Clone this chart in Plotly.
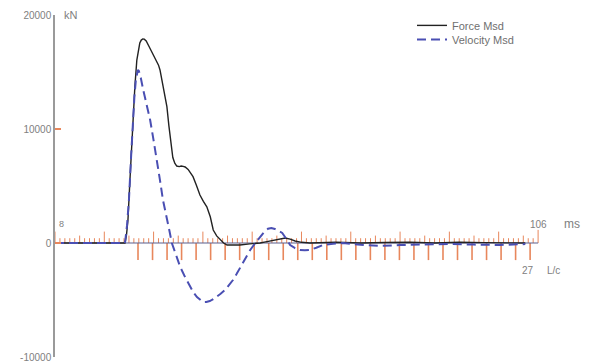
import plotly.graph_objects as go

# ---- data (time in ms, values in kN-equivalent units) ----
force_t = [8, 15, 20, 22.2, 22.5, 22.8, 23.2, 23.8, 24.2, 24.6, 24.9, 25.2, 25.5, 25.8, 26.1,
           26.5, 27.0, 27.6, 28.1, 28.5, 29.0, 29.3, 29.6, 29.9, 30.3, 30.7, 31.1, 31.5, 31.9,
           32.3, 32.7, 33.2, 33.6, 34.0, 34.4, 35.0, 35.5, 36.0, 36.7, 37.4, 38.1, 38.8, 39.5,
           40.1, 40.8, 41.5, 42.2, 42.9, 44.0, 45.5, 47.5, 49.6, 51.0, 52.6, 53.7, 54.7, 55.7,
           56.7, 58.0, 59.7, 65, 70, 75, 80, 85, 90, 95, 100, 103.4]
force_v = [0, 0, 0, 0, 700, 2018, 5500, 10790, 13700, 16050, 17000, 17540, 17800, 17900, 17880,
           17720, 17300, 16780, 16400, 16050, 15600, 15180, 14500, 13600, 12800, 11960, 10300,
           8600, 7500, 7000, 6750, 6700, 6750, 6720, 6670, 6450, 6150, 5820, 5050, 4210, 3650,
           3180, 2300, 1140, 620, 260, 0, -175, -200, -175, -80, 0, 120, 260, 380, 440, 340,
           175, 60, 0, 60, 0, 40, 60, 0, 60, 30, 0, 0]

vel_t = [8, 15, 20, 22.2, 22.6, 23.0, 23.4, 23.8, 24.1, 24.4, 24.6, 24.8, 25.0, 25.4, 25.9,
         26.6, 27.3, 28.0, 28.7, 29.3, 29.9, 30.3, 30.7, 31.2, 31.7, 32.5, 33.4, 34.4, 35.4,
         36.1, 36.8, 37.4, 38.0, 38.7, 39.4, 40.1, 40.8, 41.6, 42.5, 43.3, 44.1, 44.8, 45.5,
         46.5, 47.6, 48.6, 49.6, 50.4, 51.2, 51.9, 52.6, 53.4, 54.1, 54.9, 55.7, 56.7, 57.7,
         58.7, 59.7, 61.0, 62.4, 64.4, 66.4, 70, 73.9, 78.0, 83, 88.1, 93, 98.3, 103.4]
vel_v = [0, 0, 0, 0, 1500, 3770, 7300, 10790, 12800, 14300, 14900, 15180, 15100, 14500, 13420,
         12100, 10790, 9000, 7280, 5500, 3770, 3000, 2280, 1100, 0, -1050, -2100, -3000, -3860,
         -4350, -4740, -5000, -5180, -5170, -5090, -4930, -4740, -4450, -4120, -3700, -3250,
         -2750, -2190, -1400, -610, -20, 530, 950, 1250, 1320, 1230, 1080, 880, 380, -175,
         -450, -610, -640, -610, -420, -175, -60, 0, -150, -260, -175, -120, -90, -140, -175, -90]

y_ticks = [20000, 10000, 0, -10000]
t_start, t_end = 8, 106
lc_start_t, lc_step_t, lc_count = 24.84, 2.946, 27

# ---- ruler decorations ----
ORANGE = "#e8875c"
FONT = "Liberation Sans, Arial, sans-serif"

up_x, up_y = [], []
for k in range(0, 98):
    t = t_start + k
    h = 1000 if k % 10 == 0 else (650 if k % 5 == 0 else 420)
    up_x += [t, t, None]
    up_y += [0, h, None]
up_x += [t_end, t_end, None]
up_y += [0, 1150, None]

dn_x, dn_y = [], []
for k in range(lc_count + 1):
    t = lc_start_t + k * lc_step_t
    dn_x += [t, t, None]
    dn_y += [0, -1500, None]

fig = go.Figure()

fig.add_trace(go.Scatter(x=up_x, y=up_y, mode="lines", line=dict(color=ORANGE, width=1),
                         showlegend=False, hoverinfo="skip"))
fig.add_trace(go.Scatter(x=dn_x, y=dn_y, mode="lines", line=dict(color=ORANGE, width=1.6),
                         showlegend=False, hoverinfo="skip"))
fig.add_trace(go.Scatter(x=[t_start, t_end], y=[0, 0], mode="lines",
                         line=dict(color="#5a6090", width=1.2), showlegend=False, hoverinfo="skip"))

fig.add_trace(go.Scatter(x=force_t, y=force_v, mode="lines", name="Force Msd", legend="legend",
                         line=dict(color="#222222", width=1.4)))
fig.add_trace(go.Scatter(x=vel_t, y=vel_v, mode="lines", name="Velocity Msd", legend="legend2",
                         line=dict(color="#4a4fb3", width=2, dash="9px,5px")))

txt = dict(family=FONT, size=10, color="#808080")
ann = [
    dict(x=t_start, y=0, xref="x", yref="y", text="8", showarrow=False,
         xanchor="left", yanchor="bottom", yshift=12, xshift=2, font=dict(txt, size=9)),
    dict(x=t_end, y=0, xref="x", yref="y", text="106", showarrow=False,
         xanchor="center", yanchor="bottom", yshift=11, xshift=0, font=txt),
    dict(x=t_end, y=0, xref="x", yref="y", text="ms", showarrow=False,
         xanchor="left", yanchor="bottom", yshift=10, xshift=24, font=dict(txt, size=12)),
    dict(x=lc_start_t + lc_count * lc_step_t, y=0, xref="x", yref="y", text="27",
         showarrow=False, xanchor="center", yanchor="top", yshift=-20, xshift=-2, font=txt),
    dict(x=lc_start_t + lc_count * lc_step_t, y=0, xref="x", yref="y", text="L/c",
         showarrow=False, xanchor="left", yanchor="top", yshift=-20, xshift=15, font=txt),
    dict(x=t_start, y=20000, xref="x", yref="y", text="kN", showarrow=False,
         xanchor="left", yanchor="middle", xshift=7, font=dict(txt, size=11)),
]

leg_common = dict(xanchor="left", yanchor="top", bgcolor="rgba(0,0,0,0)",
                  font=dict(family=FONT, size=11, color="#707070"), itemwidth=30)

fig.update_layout(
    width=597, height=363,
    margin=dict(l=55, r=17, t=15, b=6),
    paper_bgcolor="white", plot_bgcolor="white",
    annotations=ann,
    legend=dict(leg_common, x=0.680, y=1.012),
    legend2=dict(leg_common, x=0.680, y=0.971),
    xaxis=dict(range=[8, 114.5], visible=False, showgrid=False, zeroline=False, automargin=False),
    yaxis=dict(range=[-10000, 20000], tickvals=y_ticks, ticktext=[str(v) for v in y_ticks],
               showgrid=False, zeroline=False, showline=True, linecolor="#9a9a9a", linewidth=1.5,
               ticks="inside", ticklen=6, tickcolor=ORANGE, tickwidth=1.5, automargin=False,
               tickfont=dict(family=FONT, size=10, color="#808080")),
)

fig.write_html("out.html", config={"displayModeBar": False},
               post_script="document.body.style.margin='0';")
